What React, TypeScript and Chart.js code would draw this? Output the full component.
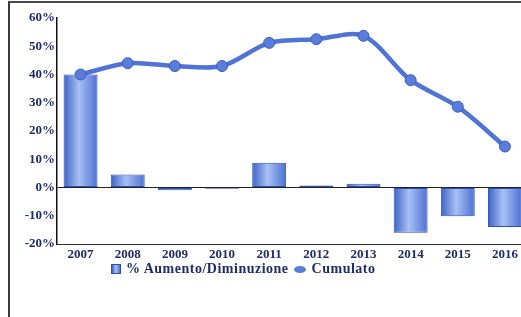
import React, { useEffect, useRef } from "react";
import { Chart, registerables } from "chart.js";

Chart.register(...registerables);

const years = ["2007", "2008", "2009", "2010", "2011", "2012", "2013", "2014", "2015", "2016"];
const changePct = [40, 4.6, -1, -0.4, 8.8, 0.7, 1.3, -16, -10.2, -14];
const cumulative = [40, 44, 43, 43, 51.2, 52.5, 53.7, 38, 28.6, 14.5];
const yTicksMin = -20;
const yTicksMax = 60;

const labelBar = "% Aumento/Diminuzione";
const labelLine = "Cumulato";

const navy = "#1f2b6b";
const serif = "'Liberation Serif', 'DejaVu Serif', serif";

export default function App() {
  const canvasRef = useRef<HTMLCanvasElement | null>(null);

  useEffect(() => {
    const canvas = canvasRef.current;
    if (!canvas) return;
    const chart = new Chart(canvas, {
      type: "bar",
      data: {
        labels: years,
        datasets: [
          {
            type: "line",
            label: labelLine,
            data: cumulative,
            borderColor: "#5074d6",
            backgroundColor: "#5a7ddc",
            borderWidth: 4.5,
            pointRadius: 5.5,
            pointBorderColor: "#3a5cc0",
            pointBorderWidth: 1,
            pointBackgroundColor: "#5a7ddc",
            tension: 0.3,
            order: 0,
          } as any,
          {
            type: "bar",
            label: labelBar,
            data: changePct,
            backgroundColor: (ctx: any) => {
              const ch = ctx.chart;
              if (!ch.chartArea || ctx.dataIndex === undefined) return "#6b8fe6";
              const x = ch.scales.x.getPixelForValue(ctx.dataIndex);
              const w = 17;
              const g = ch.ctx.createLinearGradient(x - w, 0, x + w, 0);
              g.addColorStop(0, "#3d61c6");
              g.addColorStop(0.45, "#a8c0f4");
              g.addColorStop(1, "#4d70d2");
              return g;
            },
            borderColor: "#2f4fae",
            borderWidth: 1,
            borderSkipped: false,
            barPercentage: 0.72,
            categoryPercentage: 1,
            order: 1,
          } as any,
        ],
      },
      options: {
        animation: false,
        responsive: false,
        maintainAspectRatio: false,
        layout: { padding: { top: 14, right: 3, left: 0, bottom: 0 } },
        plugins: {
          legend: { display: false },
          tooltip: { enabled: false },
        },
        scales: {
          x: {
            offset: true,
            grid: { display: false, drawTicks: false },
            border: { display: true, color: "#333", width: 1, dash: [4, 2] },
            ticks: {
              color: navy,
              font: { family: serif, size: 13, weight: "bold" },
              padding: 3,
              maxRotation: 0,
            },
            afterFit: (s: any) => {
              s.height = 22;
            },
          },
          y: {
            min: yTicksMin,
            max: yTicksMax,
            ticks: {
              stepSize: 10,
              color: navy,
              font: { family: serif, size: 13, weight: "bold" },
              padding: 2,
              callback: (v: any) => v + "%",
            },
            grid: {
              drawTicks: false,
              color: (c: any) => (c.tick && c.tick.value === 0 ? "#222" : "rgba(0,0,0,0)"),
              lineWidth: 1,
            },
            border: { display: true, color: "#111", width: 1.5 },
            afterFit: (s: any) => {
              s.width = 47;
            },
          },
        },
      },
    });
    return () => chart.destroy();
  }, []);

  return (
    <div
      style={{
        position: "fixed",
        left: 0,
        top: 0,
        width: 521,
        height: 317,
        overflow: "hidden",
        background: "#fff",
      }}
    >
      <div
        style={{
          position: "absolute",
          left: 8,
          top: 1,
          width: 600,
          height: 400,
          borderLeft: "2px solid #3a3a3a",
          borderTop: "2px solid #4a4a4a",
        }}
      />
      <canvas
        ref={canvasRef}
        width={525}
        height={262}
        style={{ position: "absolute", left: 10, top: 4, width: 525, height: 262 }}
      />
      <div
        style={{
          position: "absolute",
          left: 111,
          top: 261,
          display: "flex",
          alignItems: "center",
          fontFamily: serif,
          fontWeight: "bold",
          fontSize: 14,
          letterSpacing: 0.5,
          color: navy,
          whiteSpace: "nowrap",
        }}
      >
        <span
          style={{
            display: "inline-block",
            width: 8,
            height: 8,
            border: "1px solid #2f4fae",
            background: "linear-gradient(90deg,#3d61c6,#a8c0f4,#4d70d2)",
            marginRight: 5,
          }}
        />
        <span>{labelBar}</span>
        <span
          style={{
            display: "inline-block",
            width: 12,
            height: 7,
            borderRadius: "50%",
            background: "#5a7ddc",
            marginLeft: 5,
            marginRight: 6,
          }}
        />
        <span>{labelLine}</span>
      </div>
    </div>
  );
}
